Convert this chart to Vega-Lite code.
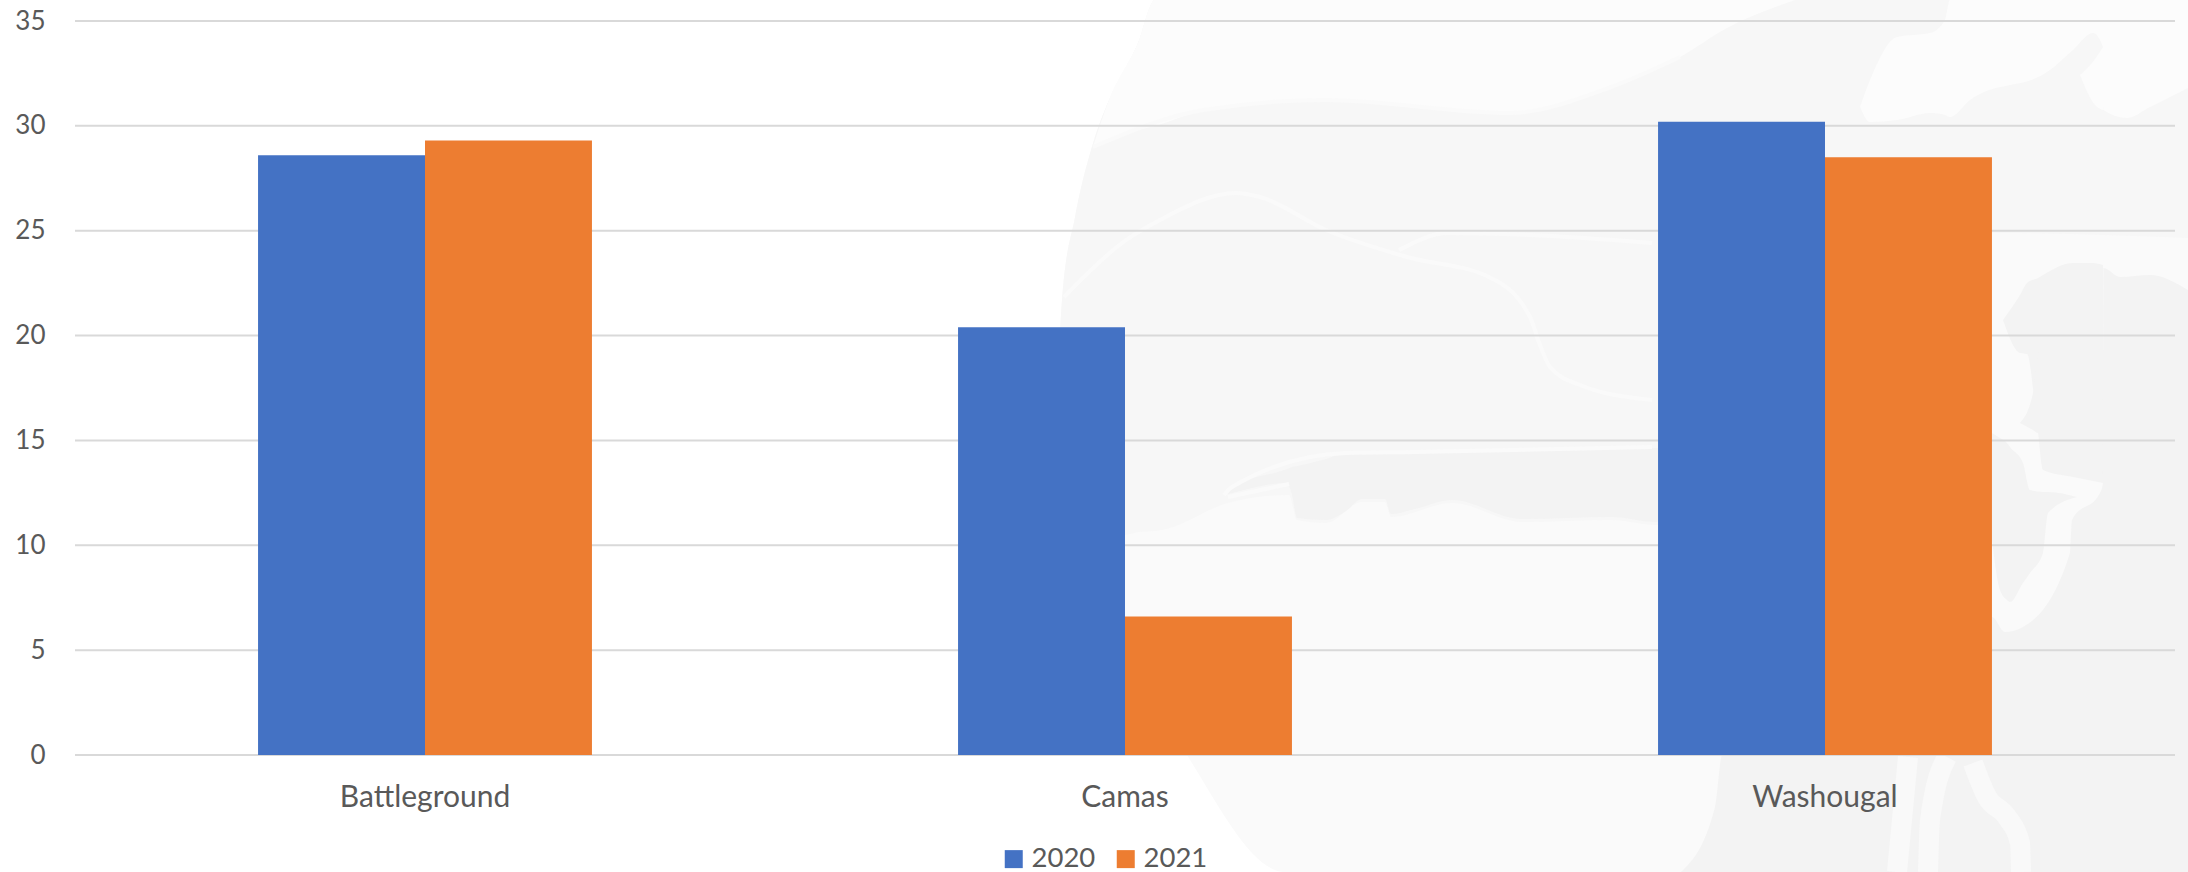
{"$schema":"https://vega.github.io/schema/vega-lite/v6.json","width":2100,"height":734,"autosize":{"type":"none"},"padding":{"left":75,"top":21,"right":13,"bottom":117},"background":"#ffffff",
"datasets":{
"bars":[{"town":"Battleground","year":"2020","value":28.6},{"town":"Battleground","year":"2021","value":29.3},{"town":"Camas","year":"2020","value":20.4},{"town":"Camas","year":"2021","value":6.6},{"town":"Washougal","year":"2020","value":30.2},{"town":"Washougal","year":"2021","value":28.5}],
"grid":[{"level":0},{"level":5},{"level":10},{"level":15},{"level":20},{"level":25},{"level":30},{"level":35}],
"globe":[{"h":1060,"a":333,"b":420},{"h":1062,"a":300,"b":430},{"h":1075,"a":217,"b":520},{"h":1091,"a":150,"b":560},{"h":1109,"a":100,"b":610},{"h":1138,"a":43,"b":670},{"h":1155,"a":0,"b":700},{"h":1187,"a":0,"b":755},{"h":1285,"a":0,"b":872},{"h":2188,"a":0,"b":872}],
"upperLand":[{"h":1060,"a":333,"b":400},{"h":1062,"a":300,"b":420},{"h":1075,"a":217,"b":460},{"h":1091,"a":150,"b":500},{"h":1109,"a":100,"b":520},{"h":1125,"a":70,"b":535},{"h":1138,"a":43,"b":532},{"h":1155,"a":0,"b":531},{"h":1162,"a":0,"b":530},{"h":1228,"a":0,"b":503},{"h":1289,"a":0,"b":495},{"h":1297,"a":0,"b":520},{"h":1326,"a":0,"b":523},{"h":1362,"a":0,"b":502},{"h":1385,"a":0,"b":502},{"h":1391,"a":0,"b":517},{"h":1452,"a":0,"b":503},{"h":1522,"a":0,"b":522},{"h":1611,"a":0,"b":520},{"h":1656,"a":0,"b":525},{"h":1700,"a":0,"b":450},{"h":1950,"a":0,"b":235},{"h":1993,"a":0,"b":233},{"h":2188,"a":0,"b":238}],
"sky":[{"part":"a","h":1093,"a":147,"b":147},{"part":"a","h":1109,"a":100,"b":142},{"part":"a","h":1138,"a":43,"b":130},{"part":"a","h":1155,"a":0,"b":126},{"part":"a","h":1203,"a":0,"b":110},{"part":"a","h":1260,"a":0,"b":103},{"part":"a","h":1326,"a":0,"b":100},{"part":"a","h":1420,"a":0,"b":107},{"part":"a","h":1509,"a":0,"b":113},{"part":"a","h":1611,"a":0,"b":87},{"part":"a","h":1680,"a":0,"b":57},{"part":"a","h":1727,"a":0,"b":28},{"part":"a","h":1795,"a":0,"b":0},
{"part":"b","h":1860,"a":107,"b":107},{"part":"b","h":1870,"a":80,"b":122},{"part":"b","h":1897,"a":37,"b":120},{"part":"b","h":1930,"a":33,"b":113},{"part":"b","h":1945,"a":20,"b":115},{"part":"b","h":1950,"a":0,"b":117},{"part":"b","h":1970,"a":0,"b":100},{"part":"b","h":2050,"a":0,"b":70},{"part":"b","h":2073,"a":0,"b":50},{"part":"b","h":2093,"a":0,"b":33},{"part":"b","h":2103,"a":0,"b":47},{"part":"b","h":2103.5,"a":0,"b":110},{"part":"b","h":2127,"a":0,"b":118},{"part":"b","h":2150,"a":0,"b":107},{"part":"b","h":2188,"a":0,"b":88},
{"part":"c","h":2080,"a":75,"b":75},{"part":"c","h":2095,"a":59,"b":105},{"part":"c","h":2103,"a":47,"b":110}],
"deepLand":[{"part":"a","h":1224,"a":495,"b":495},{"part":"a","h":1232,"a":487,"b":493},{"part":"a","h":1287,"a":469,"b":483},{"part":"a","h":1292,"a":467,"b":495},{"part":"a","h":1297,"a":466,"b":518},{"part":"a","h":1326,"a":459,"b":520},{"part":"a","h":1346,"a":453,"b":511},{"part":"a","h":1362,"a":453,"b":499},{"part":"a","h":1385,"a":453,"b":499},{"part":"a","h":1391,"a":453,"b":514},{"part":"a","h":1415,"a":453,"b":509},{"part":"a","h":1452,"a":452,"b":500},{"part":"a","h":1522,"a":451,"b":519},{"part":"a","h":1611,"a":449,"b":517},{"part":"a","h":1656,"a":448,"b":522},{"part":"a","h":1700,"a":440,"b":500},
{"part":"b","h":2003,"a":320,"b":320},{"part":"b","h":2020,"a":295,"b":353},{"part":"b","h":2027,"a":283,"b":354},{"part":"b","h":2038,"a":278,"b":432},{"part":"b","h":2043,"a":275,"b":470},{"part":"b","h":2073,"a":263,"b":477},{"part":"b","h":2093,"a":263,"b":481},{"part":"b","h":2103,"a":265,"b":483},
{"part":"c","h":2020,"a":423,"b":423},{"part":"c","h":2033,"a":393,"b":430},{"part":"c","h":2038,"a":355,"b":433},{"part":"c","h":2040,"a":350,"b":433},
{"part":"d","h":1681,"a":872,"b":872},{"part":"d","h":1715,"a":807,"b":872},{"part":"d","h":1722,"a":755,"b":872},{"part":"d","h":1992,"a":617,"b":872},{"part":"d","h":2005,"a":632,"b":872},{"part":"d","h":2023,"a":627,"b":872},{"part":"d","h":2070,"a":553,"b":872},{"part":"d","h":2072,"a":520,"b":872},{"part":"d","h":2100,"a":493,"b":872},{"part":"d","h":2103,"a":483,"b":872},{"part":"d","h":2103.5,"a":268,"b":872},{"part":"d","h":2120,"a":277,"b":872},{"part":"d","h":2150,"a":275,"b":872},{"part":"d","h":2188,"a":290,"b":872},
{"part":"e","h":1992,"a":433,"b":540},{"part":"e","h":2000,"a":438,"b":590},{"part":"e","h":2007,"a":443,"b":600},{"part":"e","h":2010,"a":447,"b":602},{"part":"e","h":2023,"a":463,"b":583},{"part":"e","h":2030,"a":490,"b":573},{"part":"e","h":2043,"a":492,"b":553},{"part":"e","h":2048,"a":492,"b":513},{"part":"e","h":2077,"a":497,"b":497}],
"thinLines":[{"part":"a","h":1064,"v":297},{"part":"a","h":1122,"v":243},{"part":"a","h":1160,"v":220},{"part":"a","h":1236,"v":193},{"part":"a","h":1260,"v":197},{"part":"a","h":1326,"v":230},{"part":"a","h":1407,"v":257},{"part":"a","h":1489,"v":277},{"part":"a","h":1530,"v":317},{"part":"a","h":1540,"v":345},{"part":"a","h":1550,"v":367},{"part":"a","h":1580,"v":385},{"part":"a","h":1652,"v":400},
{"part":"b","h":1399,"v":250},{"part":"b","h":1448,"v":233},{"part":"b","h":1530,"v":235},{"part":"b","h":1652,"v":243},
{"part":"c","h":1224,"v":495},{"part":"c","h":1232,"v":487},{"part":"c","h":1346,"v":453},{"part":"c","h":1415,"v":452},{"part":"c","h":1652,"v":447},
{"part":"d","h":1228,"v":497},{"part":"d","h":1289,"v":484},
{"part":"e","h":1093,"v":147},{"part":"e","h":1203,"v":110},{"part":"e","h":1326,"v":100},{"part":"e","h":1509,"v":113},{"part":"e","h":1611,"v":87},{"part":"e","h":1680,"v":57}],
"wideLines":[{"part":"a","h":1897,"v":872},{"part":"a","h":1908,"v":757},{"part":"b","h":1928,"v":872},{"part":"b","h":1930,"v":820},{"part":"b","h":1947,"v":757},{"part":"c","h":1973,"v":763},{"part":"c","h":1987,"v":797},{"part":"c","h":2007,"v":817},{"part":"c","h":2020,"v":843},{"part":"c","h":2021,"v":872}]
},
"resolve":{"scale":{"x":"independent","y":"independent","xOffset":"independent"},"axis":{"x":"independent","y":"independent"}},
"layer":[
{"data":{"name":"globe"},"mark":{"type":"area","color":"#fafafa","opacity":1,"clip":false,"interpolate":"monotone"},"encoding":{"x":{"field":"h","type":"quantitative","axis":null,"scale":{"domain":[75,2175],"range":[0,2100],"zero":false,"nice":false}},"y":{"field":"a","type":"quantitative","axis":null,"stack":null,"scale":{"domain":[21,755],"range":[0,734],"zero":false,"nice":false}},"y2":{"field":"b"}}},
{"data":{"name":"upperLand"},"mark":{"type":"area","color":"#f7f7f7","opacity":1,"clip":false,"interpolate":"monotone"},"encoding":{"x":{"field":"h","type":"quantitative","axis":null,"scale":{"domain":[75,2175],"range":[0,2100],"zero":false,"nice":false}},"y":{"field":"a","type":"quantitative","axis":null,"stack":null,"scale":{"domain":[21,755],"range":[0,734],"zero":false,"nice":false}},"y2":{"field":"b"}}},
{"data":{"name":"sky"},"mark":{"type":"area","color":"#fcfcfc","opacity":1,"clip":false,"interpolate":"monotone"},"encoding":{"detail":{"field":"part"},"x":{"field":"h","type":"quantitative","axis":null,"scale":{"domain":[75,2175],"range":[0,2100],"zero":false,"nice":false}},"y":{"field":"a","type":"quantitative","axis":null,"stack":null,"scale":{"domain":[21,755],"range":[0,734],"zero":false,"nice":false}},"y2":{"field":"b"}}},
{"data":{"name":"deepLand"},"mark":{"type":"area","color":"#f3f3f3","opacity":1,"clip":false,"interpolate":"monotone"},"encoding":{"detail":{"field":"part"},"x":{"field":"h","type":"quantitative","axis":null,"scale":{"domain":[75,2175],"range":[0,2100],"zero":false,"nice":false}},"y":{"field":"a","type":"quantitative","axis":null,"stack":null,"scale":{"domain":[21,755],"range":[0,734],"zero":false,"nice":false}},"y2":{"field":"b"}}},
{"data":{"name":"thinLines"},"mark":{"type":"line","color":"#fafafa","strokeWidth":4,"clip":false,"interpolate":"monotone"},"encoding":{"detail":{"field":"part"},"x":{"field":"h","type":"quantitative","axis":null,"scale":{"domain":[75,2175],"range":[0,2100],"zero":false,"nice":false}},"y":{"field":"v","type":"quantitative","axis":null,"scale":{"domain":[21,755],"range":[0,734],"zero":false,"nice":false}}}},
{"data":{"name":"wideLines"},"mark":{"type":"line","color":"#f9f9f9","strokeWidth":20,"clip":false,"interpolate":"monotone"},"encoding":{"detail":{"field":"part"},"x":{"field":"h","type":"quantitative","axis":null,"scale":{"domain":[75,2175],"range":[0,2100],"zero":false,"nice":false}},"y":{"field":"v","type":"quantitative","axis":null,"scale":{"domain":[21,755],"range":[0,734],"zero":false,"nice":false}}}},
{"data":{"name":"grid"},"mark":{"type":"rule","color":"#d9d9d9","strokeWidth":2},"encoding":{"y":{"field":"level","type":"quantitative","axis":null,"scale":{"domain":[0,35],"nice":false}}}},
{"data":{"name":"bars"},"mark":{"type":"bar"},"encoding":{
"x":{"field":"town","type":"nominal","title":null,"scale":{"paddingInner":0.523,"paddingOuter":0.2615},"axis":{"orient":"bottom","zindex":1,"labelAngle":0,"labelFont":"Lato","labelFontSize":30,"labelColor":"#595959","ticks":false,"domain":false,"grid":false,"labelPadding":27}},
"xOffset":{"field":"year","type":"nominal","scale":{"paddingInner":0,"paddingOuter":0}},
"y":{"field":"value","type":"quantitative","title":null,"stack":null,"scale":{"domain":[0,35],"nice":false},"axis":{"orient":"left","values":[0,5,10,15,20,25,30,35],"labelFont":"Lato","labelFontSize":26,"labelColor":"#595959","ticks":false,"domain":false,"grid":false,"labelPadding":30}},
"color":{"field":"year","type":"nominal","scale":{"domain":["2020","2021"],"range":["#4472C4","#ED7D31"]},"legend":{"title":null,"orient":"none","legendX":925,"legendY":824,"direction":"horizontal","symbolType":"square","symbolSize":324,"symbolStrokeWidth":0,"labelFont":"Lato","labelFontSize":27.5,"labelColor":"#595959","columnPadding":16,"labelOffset":4}}
}}
],
"config":{"view":{"stroke":null}}}
